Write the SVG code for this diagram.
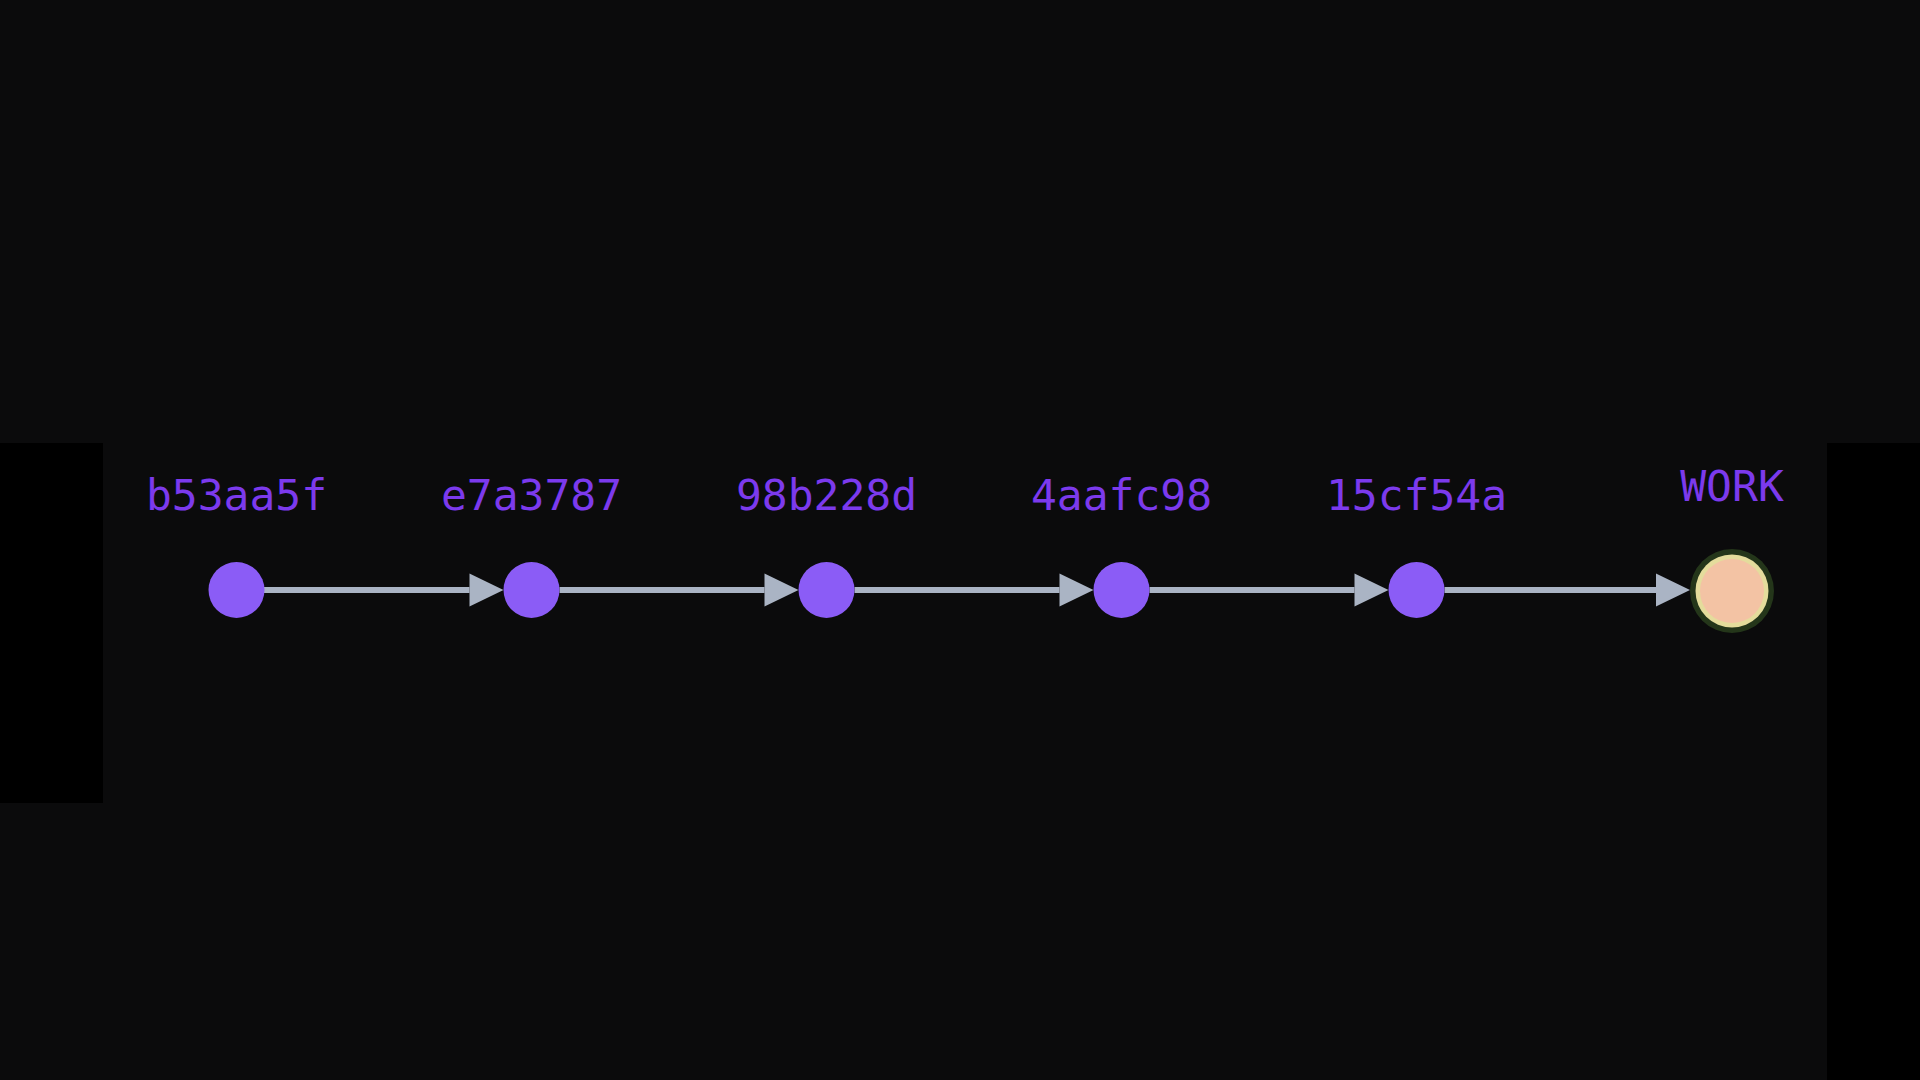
<svg xmlns="http://www.w3.org/2000/svg" width="1920" height="1080" viewBox="0 0 1920 1080">
  <defs>
    <style>
      .bg { fill: #0b0b0c; }
      .blk { fill: #000000; }
      .commit { fill: #8b5cf6; }
      .label { font-family: "DejaVu Sans Mono", "Liberation Mono", monospace; font-size: 43px; fill: #7c3aed; text-anchor: middle; }
      .edge { stroke: #aab4c4; stroke-width: 6; fill: none; marker-end: url(#arrow); }
    </style>
    <marker id="arrow" markerUnits="userSpaceOnUse" markerWidth="34" markerHeight="33" refX="0" refY="16.5" orient="auto" overflow="visible">
      <path d="M0,0 L34,16.5 L0,33 Z" fill="#aab4c4"/>
    </marker>
  </defs>

  <rect class="bg" x="0" y="0" width="1920" height="1080"/>
  <rect class="blk" x="0" y="443" width="103" height="360"/>
  <rect class="blk" x="1827" y="443" width="93" height="637"/>

  <g id="connectors">
    <line class="edge" x1="264" y1="590" x2="469.5" y2="590"/>
    <line class="edge" x1="559.5" y1="590" x2="764.5" y2="590"/>
    <line class="edge" x1="854.5" y1="590" x2="1059.5" y2="590"/>
    <line class="edge" x1="1149.5" y1="590" x2="1354.5" y2="590"/>
    <line class="edge" x1="1444.5" y1="590" x2="1656" y2="590"/>
  </g>

  <g id="node-b53aa5f">
    <circle class="commit" cx="236.5" cy="590" r="28"/>
    <text class="label" x="236.5" y="510">b53aa5f</text>
  </g>
  <g id="node-e7a3787">
    <circle class="commit" cx="531.5" cy="590" r="28"/>
    <text class="label" x="531.5" y="510">e7a3787</text>
  </g>
  <g id="node-98b228d">
    <circle class="commit" cx="826.5" cy="590" r="28"/>
    <text class="label" x="826.5" y="510">98b228d</text>
  </g>
  <g id="node-4aafc98">
    <circle class="commit" cx="1121.5" cy="590" r="28"/>
    <text class="label" x="1121.5" y="510">4aafc98</text>
  </g>
  <g id="node-15cf54a">
    <circle class="commit" cx="1416.5" cy="590" r="28"/>
    <text class="label" x="1416.5" y="510">15cf54a</text>
  </g>
  <g id="node-WORK">
    <circle cx="1732" cy="591" r="42" fill="#24361a"/>
    <circle cx="1732" cy="591" r="36.5" fill="#e4dc9c"/>
    <circle cx="1732" cy="591" r="32" fill="#f3c3a4"/>
    <text class="label" x="1732" y="501">WORK</text>
  </g>
</svg>
